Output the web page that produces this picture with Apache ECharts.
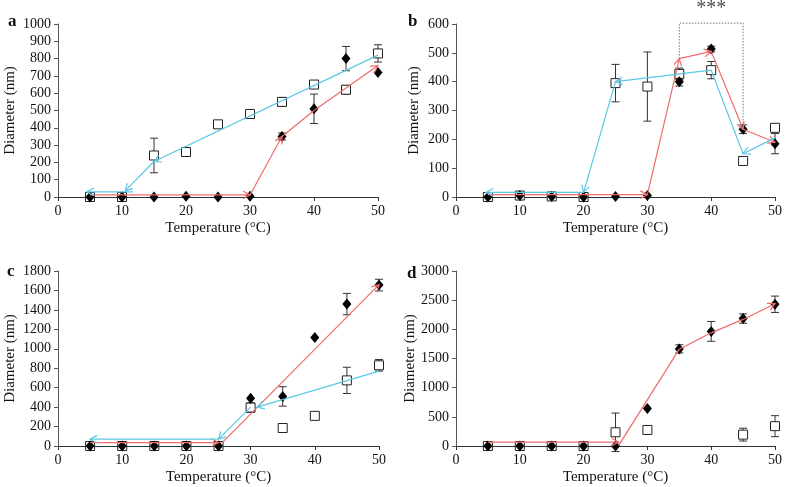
<!DOCTYPE html>
<html>
<head>
<meta charset="utf-8">
<script src="https://cdn.jsdelivr.net/npm/echarts@6/dist/echarts.min.js"></script>
<style>html,body{margin:0;padding:0;background:#fff}#c{width:785px;height:487px}</style>
</head>
<body>
<div id="c"></div>
<script>
// ---- data ----
const temps = [5,10,15,20,25,30,35,40,45,50];

const aDiamond = [0,0,0,5,0,5,350,510,800,720];
const aDiamondErr = [0,0,0,0,0,0,20,85,70,0];
const aSquare = [0,0,240,260,420,480,550,650,620,830];
const aSquareErr = [0,0,100,5,8,18,25,10,25,50];

const bDiamond = [0,5,2,0,2,5,400,513,235,185];
const bDiamondErr = [0,0,0,0,0,0,15,10,15,35];
const bSquare = [0,5,2,0,395,383,427,440,125,240];
const bSquareErr = [0,0,0,0,65,120,20,30,10,12];

const cDiamond = [0,0,0,0,0,490,510,1115,1460,1655];
const cDiamondErr = [0,0,0,0,0,0,100,0,110,60];
const cSquare = [0,0,0,0,0,395,185,310,675,830];
const cSquareErr = [0,0,0,0,0,50,20,25,135,60];

const dDiamond = [0,0,0,0,0,645,1665,1965,2185,2430];
const dDiamondErr = [0,0,0,0,0,0,70,170,80,140];
const dSquareTemps = [5,10,15,20,25,30,45,50];
const dSquare = [0,0,0,0,235,275,195,340];
const dSquareErr = [0,0,0,0,330,30,110,180];

// arrow segments: [x1, y1, x2, y2, arrowhead]
const aHeat = [[5,12,30,12,1],[30,12,35,350,1],[35,350,40,500,0],[40,500,50,760,1]];
const aCool = [[50,820,15,205,1],[15,205,10.5,35,1],[11.7,30,4.5,30,1]];
const bHeat = [[5,8,30,8,1],[30,8,35,480,1],[35,480,40,505,1],[40,505,45,235,1],[45,235,50,190,1]];
const bCool = [[50,205,45,150,1],[45,150,40,440,0],[40,440,25,400,1],[25,400,20,16,1],[20,16,4.7,16,1]];
const cHeat = [[5,35,25,35,1],[25.5,30,50,1660,1]];
const cCool = [[50,770,31,400,1],[30,400,25,70,1],[25,70,5,70,1]];
const dHeat = [[5,68,25.5,68,1],[25.5,10,35,1660,0],[35,1660,40,1940,0],[40,1940,45,2170,0],[45,2170,50,2440,1]];
const bBracket = [[35,480],[35,603],[45,603],[45,240]];
const bStars = [[40,603]];

const yMax = [1000,600,1800,3000];
const yInterval = [100,100,200,500];

// ---- chart ----
const RED = '#f06a6a', CYAN = '#5ac8e4';
const FONT = '"Liberation Serif","Times New Roman",serif';

function pairs(xs, ys){ return xs.map((x,i)=>[x, ys[i]]); }
function errs(xs, ys, es){ return xs.map((x,i)=>[x, ys[i]-es[i], ys[i]+es[i]]).filter((d,i)=>es[i]>0); }

function arrowSeries(data, color, idx){
  return {
    type:'custom', xAxisIndex:idx, yAxisIndex:idx, z:6, clip:false,
    encode:{x:[0,2], y:[1,3]},
    data:data,
    renderItem:function(params, api){
      const p1 = api.coord([api.value(0), api.value(1)]);
      const p2 = api.coord([api.value(2), api.value(3)]);
      const ch = [{type:'line', shape:{x1:p1[0],y1:p1[1],x2:p2[0],y2:p2[1]}, style:{stroke:color, lineWidth:1.2}}];
      if (api.value(4)) {
        const ang = Math.atan2(p2[1]-p1[1], p2[0]-p1[0]);
        const L = 8, a = 0.5;
        ch.push({type:'polyline', shape:{points:[
          [p2[0]-L*Math.cos(ang-a), p2[1]-L*Math.sin(ang-a)],
          [p2[0], p2[1]],
          [p2[0]-L*Math.cos(ang+a), p2[1]-L*Math.sin(ang+a)]
        ]}, style:{stroke:color, fill:null, lineWidth:1.2}});
      }
      return {type:'group', children:ch};
    }
  };
}

function errSeries(data, idx){
  return {
    type:'custom', xAxisIndex:idx, yAxisIndex:idx, z:2,
    encode:{x:0, y:[1,2]},
    data:data,
    renderItem:function(params, api){
      const lo = api.coord([api.value(0), api.value(1)]);
      const hi = api.coord([api.value(0), api.value(2)]);
      const w = 4;
      const st = {stroke:'#333', lineWidth:1};
      return {type:'group', children:[
        {type:'line', shape:{x1:lo[0],y1:lo[1],x2:hi[0],y2:hi[1]}, style:st},
        {type:'line', shape:{x1:lo[0]-w,y1:lo[1],x2:lo[0]+w,y2:lo[1]}, style:st},
        {type:'line', shape:{x1:hi[0]-w,y1:hi[1],x2:hi[0]+w,y2:hi[1]}, style:st}
      ]};
    }
  };
}

function diamondSeries(data, idx){
  return {type:'scatter', xAxisIndex:idx, yAxisIndex:idx, z:4, symbol:'diamond', symbolSize:[9,11],
    itemStyle:{color:'#000', opacity:1}, data:data, silent:true};
}
function squareSeries(data, idx){
  return {type:'scatter', xAxisIndex:idx, yAxisIndex:idx, z:3, symbol:'rect', symbolSize:9,
    itemStyle:{color:'#fff', borderColor:'#222', borderWidth:1, opacity:1}, data:data, silent:true};
}

const grids = [
  {left:58, top:24, width:320, height:173},
  {left:456, top:24, width:322, height:173},
  {left:58, top:271, width:321, height:175},
  {left:456, top:271, width:321, height:175}
];
const yGaps = [40, 34, 40, 38];

const xAxes = grids.map((g,i)=>({
  type:'value', gridIndex:i, min:0, max:50, interval:10,
  name:'Temperature (\u00B0C)', nameLocation:'middle', nameGap:24,
  nameTextStyle:{fontFamily:FONT, fontSize:15, color:'#111'},
  axisLine:{lineStyle:{color:'#333', width:1}},
  axisTick:{show:true, length:4, lineStyle:{color:'#333'}},
  axisLabel:{fontFamily:FONT, fontSize:14, color:'#111', margin:7},
  splitLine:{show:false}
}));
const yAxes = grids.map((g,i)=>({
  type:'value', gridIndex:i, min:0, max:yMax[i], interval:yInterval[i],
  name:'Diameter (nm)', nameLocation:'middle', nameGap:yGaps[i], nameRotate:90,
  nameTextStyle:{fontFamily:FONT, fontSize:15, color:'#111'},
  axisLine:{show:true, lineStyle:{color:'#555', width:1}},
  axisTick:{show:true, length:4, lineStyle:{color:'#555'}},
  axisLabel:{fontFamily:FONT, fontSize:14, color:'#111', margin:7, formatter:v=>String(v)},
  splitLine:{show:false}
}));

const series = [
  errSeries(errs(temps,aSquare,aSquareErr),0), errSeries(errs(temps,aDiamond,aDiamondErr),0),
  squareSeries(pairs(temps,aSquare),0), diamondSeries(pairs(temps,aDiamond),0),
  arrowSeries(aHeat,RED,0), arrowSeries(aCool,CYAN,0),

  errSeries(errs(temps,bSquare,bSquareErr),1), errSeries(errs(temps,bDiamond,bDiamondErr),1),
  squareSeries(pairs(temps,bSquare),1), diamondSeries(pairs(temps,bDiamond),1),
  arrowSeries(bHeat,RED,1), arrowSeries(bCool,CYAN,1),
  {type:'line', xAxisIndex:1, yAxisIndex:1, data:bBracket, symbol:'none', clip:false, z:1,
   lineStyle:{color:'#777', width:1, type:[1.5,1.5]}, silent:true},
  {type:'scatter', xAxisIndex:1, yAxisIndex:1, data:bStars, symbolSize:0, clip:false, silent:true,
   label:{show:true, position:'top', distance:4, formatter:'***', fontFamily:FONT, fontSize:20, color:'#222'}},

  errSeries(errs(temps,cSquare,cSquareErr),2), errSeries(errs(temps,cDiamond,cDiamondErr),2),
  squareSeries(pairs(temps,cSquare),2), diamondSeries(pairs(temps,cDiamond),2),
  arrowSeries(cHeat,RED,2), arrowSeries(cCool,CYAN,2),

  errSeries(errs(dSquareTemps,dSquare,dSquareErr),3), errSeries(errs(temps,dDiamond,dDiamondErr),3),
  squareSeries(pairs(dSquareTemps,dSquare),3), diamondSeries(pairs(temps,dDiamond),3),
  arrowSeries(dHeat,RED,3)
];

const letters = [['a',8,13],['b',408,13],['c',7,263],['d',407,265]];

const chart = echarts.init(document.getElementById('c'), null, {renderer:'canvas'});
chart.setOption({
  animation:false,
  backgroundColor:'#fff',
  title: letters.map(l=>({text:l[0], left:l[1], top:l[2], padding:0,
    textStyle:{fontFamily:FONT, fontSize:17, fontWeight:'bold', color:'#111'}})),
  grid: grids,
  xAxis: xAxes,
  yAxis: yAxes,
  series: series
});
</script>
</body>
</html>
